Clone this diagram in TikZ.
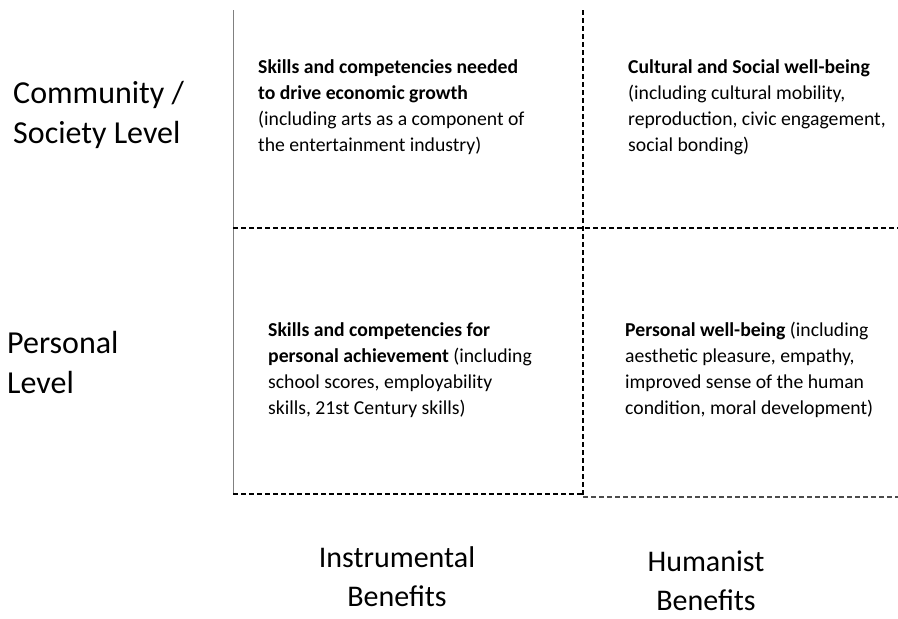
\documentclass[tikz,border=0pt]{standalone}
\usepackage{fontspec}
\setmainfont{Carlito}
\usepackage{tikz}
\usetikzlibrary{positioning}

\tikzset{
	cell/.style={anchor=base west, align=left, inner sep=0pt, font=\fontsize{19.7}{26}\selectfont},
	level/.style={anchor=base west, align=left, inner sep=0pt, font=\fontsize{32}{40}\selectfont},
	benefit/.style={anchor=base, align=center, inner sep=0pt, text depth=0pt, font=\fontsize{30}{39}\selectfont},
	gridline/.style={dash pattern=on 5pt off 3pt, line width=1.2pt}
}

\begin{document}
\begin{tikzpicture}[x=1pt, y=-1pt]
	\useasboundingbox (0,0) rectangle (898,619);

	% Grid %
	\coordinate (top) at (583,10);
	\coordinate (bot) at (583,497);
	\draw [gray, line width=0.8pt] (233,10) -- (233,494);
	\draw [gridline] (top) -- (bot);
	\draw [gridline] (233,228) -- (898,228);
	\draw [gridline] (233,494) -- (583,494);
	\draw [gridline, black!70] (bot) -- (898,497);

	% Cells (anchored at last baseline) %
	\node [cell] (econ) at (258,151) {\textbf{Skills and competencies needed}\\\textbf{to drive economic growth}\\(including arts as a component of\\the entertainment industry)};
	\node [cell] (social) at (628,151) {\textbf{Cultural and Social well-being}\\(including cultural mobility,\\reproduction, civic engagement,\\social bonding)};
	\node [cell] (achieve) at (268,414) {\textbf{Skills and competencies for}\\\textbf{personal achievement} (including\\school scores, employability\\skills, 21st Century skills)};
	\node [cell] (wellbeing) at (625,414) {\textbf{Personal well-being} (including\\aesthetic pleasure, empathy,\\improved sense of the human\\condition, moral development)};

	% Levels %
	\node [level] (community) at (13,143) {Community /\\Society Level};
	\node [level] (personal) at (7,393) {Personal\\Level};

	% Benefits %
	\node [benefit] (instr) at (397,606) {Instrumental\\Benefits};
	\node [benefit] (human) at (706,610) {Humanist\\Benefits};
\end{tikzpicture}
\end{document}
